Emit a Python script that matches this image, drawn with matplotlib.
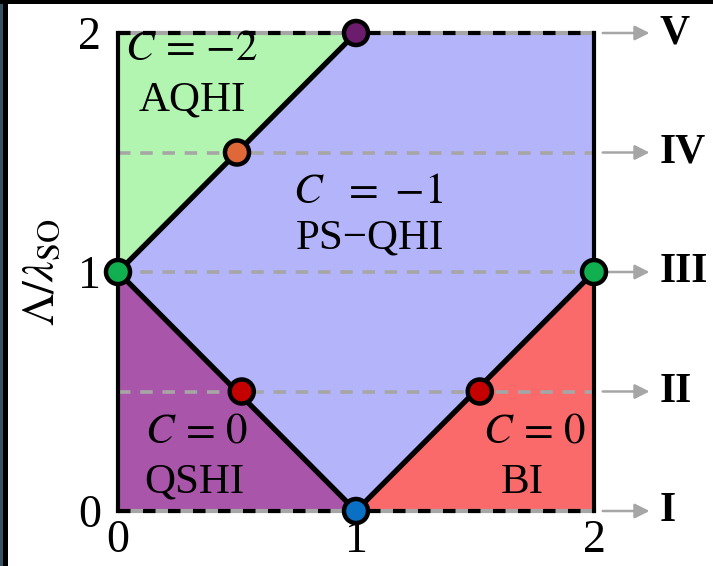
import numpy as np
import matplotlib
matplotlib.use("Agg")
import matplotlib.pyplot as plt
from matplotlib.patches import Polygon, Rectangle

plt.rcParams['font.family'] = ['Liberation Serif', 'DejaVu Serif']
plt.rcParams['mathtext.fontset'] = 'stix'
plt.rcParams['lines.scale_dashes'] = False

# phase regions (x, y) vertices in units of lambda_SO
green_region = [(0, 1), (0, 2), (1, 2)]
purple_region = [(0, 0), (0, 1), (1, 0)]
red_region = [(1, 0), (2, 0), (2, 1)]
blue_region = [(0, 1), (1, 2), (2, 2), (2, 1), (1, 0)]

# phase boundaries
boundary_x = [[0, 1], [0, 1], [1, 2]]
boundary_y = [[1, 2], [1, 0], [0, 1]]

# transition points on the cuts
pts_x = [1, 0.5, 0, 2, 0.52, 1.52, 1]
pts_y = [2, 1.5, 1, 1, 0.5, 0.5, 0]
pts_c = ['#6c1c6c', '#e06838', '#10b050', '#10b050', '#c40000', '#c40000', '#0a70c4']

cut_levels = [0, 0.5, 1, 1.5, 2]
cut_names = ['I', 'II', 'III', 'IV', 'V']

labels = [(0.31, 1.93, r'$C\,=\,{-}2$'), (0.31, 1.72, 'AQHI'),
          (1.05, 1.33, r'$C\ \ =\ {-}1$'), (1.06, 1.14, 'PS\u2212QHI'),
          (0.33, 0.33, r'$C\,=\,0$'), (0.32, 0.12, 'QSHI'),
          (1.75, 0.33, r'$C\,=\,0$'), (1.70, 0.12, 'BI')]

fig = plt.figure(figsize=(7.13, 5.66), dpi=100)
ax = fig.add_axes([118 / 713, 55 / 566, 476 / 713, 478 / 566])
ax.set_xlim(0, 2)
ax.set_ylim(0, 2)

for verts, col in [(blue_region, '#b4b4fb'), (green_region, '#b2f5b0'),
                   (purple_region, '#a955a9'), (red_region, '#fb6a6a')]:
    ax.add_patch(Polygon(verts, closed=True, facecolor=col, edgecolor='none', zorder=1))

# dashed cuts through the diagram
for y in cut_levels[1:-1]:
    ax.plot([0, 2], [y, y], color='#a6a6a6', lw=2.6, dashes=(9, 7), zorder=2)
for y in (0, 2):
    ax.plot([0, 2], [y, y], color='#a6a6a6', lw=3, clip_on=False, zorder=3)
    ax.plot([0, 2], [y, y], color='black', lw=3, dashes=(9, 9), clip_on=False, zorder=3)

for bx, by in zip(boundary_x, boundary_y):
    ax.plot(bx, by, color='black', lw=3.8, solid_capstyle='round', zorder=4)

ax.scatter(pts_x, pts_y, s=300, c=pts_c, edgecolors='black', linewidths=3.2,
           clip_on=False, zorder=6)

for x, y, s in labels:
    ax.text(x, y, s, ha='center', va='center', fontsize=31, zorder=5)

# arrows out to the cut labels
for y, name in zip(cut_levels, cut_names):
    ax.annotate('', xy=(2.245, y), xytext=(2.025, y),
                arrowprops=dict(arrowstyle='-|>', color='#a6a6a6', lw=1.8,
                                mutation_scale=22), annotation_clip=False)
    ax.text(2.275, y, name, ha='left', va='center', fontsize=30,
            fontweight='bold', clip_on=False)

for side in ('top', 'bottom'):
    ax.spines[side].set_visible(False)
for side in ('left', 'right'):
    ax.spines[side].set_linewidth(3)
    ax.spines[side].set_zorder(4)

ax.set_xticks([0, 1, 2])
ax.set_yticks([0, 1, 2])
ax.tick_params(length=0, labelsize=33)
ax.tick_params(axis='x', pad=6)
ax.tick_params(axis='y', pad=12)
ax.set_ylabel(r'$\Lambda/\lambda_{\rm SO}$', fontsize=33, labelpad=10)

# frame strips along the left and top edges
fig.patches.append(Rectangle((0, 0), 3 / 713, 1, transform=fig.transFigure,
                             facecolor='#385361', edgecolor='none'))
fig.patches.append(Rectangle((3 / 713, 0), 5 / 713, 1, transform=fig.transFigure,
                             facecolor='black', edgecolor='none'))
fig.patches.append(Rectangle((0, 1 - 4 / 566), 1, 4 / 566, transform=fig.transFigure,
                             facecolor='black', edgecolor='none'))

fig.savefig('out.png', dpi=100)
